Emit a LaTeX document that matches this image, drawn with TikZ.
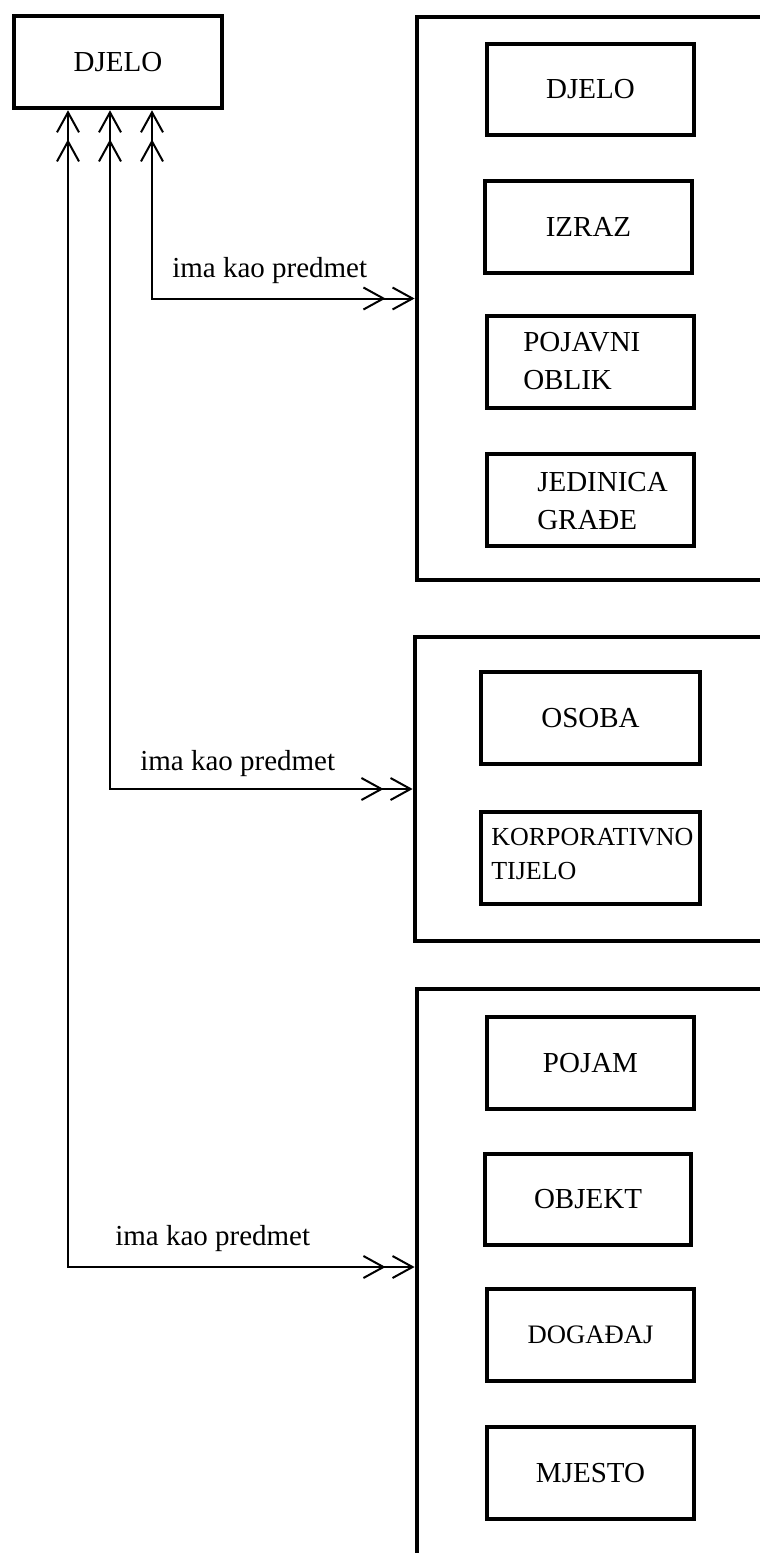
\documentclass[tikz,border=0pt]{standalone}
\usepackage{fontspec}
\setmainfont{Liberation Serif}
\usetikzlibrary{arrows.meta,fit}
\begin{document}
\begin{tikzpicture}[x=0.75pt,y=-0.75pt,
  Bq/.tip={Straight Barb[length=15pt,width=16.5pt]},
  Sq/.tip={Straight Barb[length=15pt,width=16.5pt,sep=4.5pt]},
  box/.style={draw, line width=3.4pt, inner sep=0pt, minimum width=155.25pt, minimum height=69pt, font=\fontsize{21.75}{26}\selectfont},
  cont/.style={draw, line width=3.6pt, inner sep=0pt},
  conn/.style={line width=1.5pt, arrows={Bq[]Sq[]-Sq[]Bq[]}},
  lbl/.style={inner sep=0pt, anchor=base west, font=\fontsize{21.75}{26}\selectfont},
  mtxt/.style={inner sep=0pt, anchor=west, align=left, font=\fontsize{21.75}{28.5}\selectfont},
  ktxt/.style={inner sep=0pt, anchor=west, align=left, font=\fontsize{19.5}{25.5}\selectfont}
]
\useasboundingbox (0,0) rectangle (760,1553);
\clip (0,0) rectangle (760,1553);
\fill[white] (0,0) rectangle (760,1553);

% source
\node[box, minimum width=156pt] (djelo) at (118,62) {DJELO};

% containers
\node[cont, fit={(417,17) (820,580)}] (c1) {};
\node[cont, fit={(415,637) (820,941)}] (c2) {};
\node[cont, fit={(417,989) (820,1580)}] (c3) {};

% group 1
\node[box, minimum height=68.25pt] (d2) at (590.5,89.5) {DJELO};
\node[box] (izraz) at (588.5,227) {IZRAZ};
\node[box] (pojavni) at (590.5,362) {};
\node[mtxt] (pojavnit) at (523,361) {POJAVNI\\OBLIK};
\node[box] (jedinica) at (590.5,500) {};
\node[mtxt] (jedinicat) at (537,501) {JEDINICA\\GRAĐE};

% group 2
\node[box, minimum width=164.25pt] (osoba) at (590.5,718) {OSOBA};
\node[box, minimum width=164.25pt] (korp) at (590.5,858) {};
\node[ktxt] (korpt) at (491,854) {KORPORATIVNO\\TIJELO};

% group 3
\node[box] (pojam) at (590.5,1063) {POJAM};
\node[box, minimum width=154.5pt, minimum height=68.25pt] (objekt) at (588,1199.5) {OBJEKT};
\node[box, font=\fontsize{20}{24}\selectfont] (dogadaj) at (590.5,1335) {DOGAĐAJ};
\node[box] (mjesto) at (590.5,1473) {MJESTO};

% labels
\node[lbl] (l1) at (172,277) {ima kao predmet};
\node[lbl] (l2) at (140,770) {ima kao predmet};
\node[lbl] (l3) at (115,1245) {ima kao predmet};

% connectors
\coordinate (x1) at (152,0);
\coordinate (x2) at (110,0);
\coordinate (x3) at (68,0);
\coordinate (y3) at (0,1267);
\draw[conn] (djelo.south -| x1) |- (c1.west);
\draw[conn] (djelo.south -| x2) |- (c2.west);
\draw[conn] (djelo.south -| x3) |- (c3.west |- y3);
\end{tikzpicture}
\end{document}
